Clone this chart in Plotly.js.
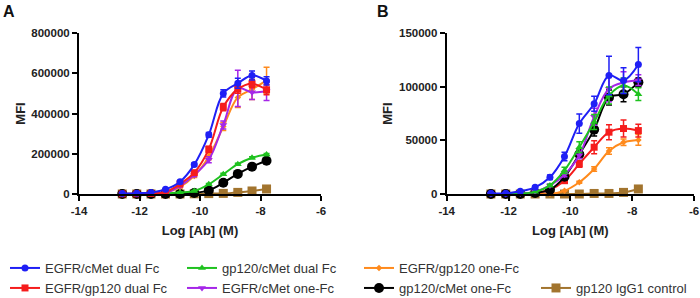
<!DOCTYPE html>
<html>
<head>
<meta charset="utf-8">
<script src="https://cdn.plot.ly/plotly-3.0.1.min.js"></script>
<style>html,body{margin:0;padding:0;background:#fff;}#chart{width:700px;height:298px;}</style>
</head>
<body>
<div id="chart"></div>
<script>
// log10 antibody concentration (M), 3-fold dilution series
const logDose = [-12.57, -12.09, -11.62, -11.14, -10.66, -10.19, -9.71, -9.23, -8.75, -8.28, -7.80];
const xTickVals = [-14, -12, -10, -8, -6];
const xTickText = ['-14', '-12', '-10', '-8', '-6'];
const yTickValsA = [0, 200000, 400000, 600000, 800000];
const yTickValsB = [0, 50000, 100000, 150000];

const seriesNames = ['EGFR/cMet dual Fc', 'gp120/cMet dual Fc', 'EGFR/gp120 one-Fc',
  'EGFR/gp120 dual Fc', 'EGFR/cMet one-Fc', 'gp120/cMet one-Fc', 'gp120 IgG1 control'];

// Panel A (MFI)
const egfrCmetDualA = [3000, 4000, 8000, 23000, 61000, 146000, 294000, 500000, 550000, 589000, 562000];
const egfrCmetDualAErr = [0, 0, 0, 3000, 6000, 8000, 12000, 18000, 25000, 22000, 20000];
const gp120CmetDualA = [0, 0, 1000, 3000, 8000, 15000, 48000, 98000, 148000, 180000, 196000];
const gp120CmetDualAErr = [0, 0, 0, 0, 2000, 3000, 4000, 5000, 5000, 5000, 5000];
const egfrGp120OneA = [0, 1000, 2000, 6000, 35000, 90000, 185000, 335000, 480000, 520000, 565000];
const egfrGp120OneAErr = [0, 0, 0, 2000, 5000, 8000, 15000, 20000, 50000, 50000, 65000];
const egfrGp120DualA = [1000, 1000, 3000, 10000, 50000, 106000, 222000, 432000, 521000, 548000, 518000];
const egfrGp120DualAErr = [0, 0, 0, 3000, 5000, 10000, 15000, 18000, 20000, 20000, 25000];
const egfrCmetOneA = [0, 1000, 2000, 6000, 40000, 95000, 170000, 343000, 525000, 505000, 510000];
const egfrCmetOneAErr = [0, 0, 0, 2000, 5000, 8000, 15000, 20000, 90000, 35000, 45000];
const gp120CmetOneA = [0, 0, 0, 0, 0, 5000, 18000, 56000, 100000, 136000, 165000];
const gp120CmetOneAErr = [0, 0, 0, 0, 0, 0, 2000, 3000, 4000, 4000, 4000];
const igg1ControlA = [0, 0, 0, 0, 0, 1000, 2000, 3000, 8000, 15000, 25000];
const igg1ControlAErr = [0, 0, 0, 0, 0, 0, 0, 0, 0, 0, 0];

// Panel B (MFI)
const egfrCmetDualB = [600, 600, 2500, 6200, 15600, 35000, 65600, 84000, 110400, 105700, 120600];
const egfrCmetDualBErr = [0, 0, 0, 1000, 2000, 4000, 9000, 7000, 18000, 12000, 16000];
const gp120CmetDualB = [0, 0, 500, 2000, 8000, 22000, 43600, 67000, 91800, 101000, 93000];
const gp120CmetDualBErr = [0, 0, 0, 0, 1000, 3000, 5000, 7000, 8000, 7000, 6000];
const egfrGp120OneB = [0, 0, 0, 0, 0, 3000, 10900, 23300, 40000, 48200, 50400];
const egfrGp120OneBErr = [0, 0, 0, 0, 0, 0, 1000, 2000, 3000, 3000, 5000];
const egfrGp120DualB = [0, 0, 0, 1000, 4000, 12400, 28000, 43600, 57600, 61000, 59100];
const egfrGp120DualBErr = [0, 0, 0, 0, 1000, 2000, 3000, 6000, 7000, 8000, 6000];
const egfrCmetOneB = [0, 0, 500, 2000, 8000, 18000, 36000, 72000, 98000, 104000, 106000];
const egfrCmetOneBErr = [0, 0, 0, 0, 1000, 2000, 3000, 8000, 12000, 10000, 5000];
const gp120CmetOneB = [0, 0, 0, 1000, 4000, 16000, 37000, 60000, 90000, 93000, 104000];
const gp120CmetOneBErr = [0, 0, 0, 0, 0, 2000, 4000, 6000, 7000, 7000, 4000];
const igg1ControlB = [0, 0, 0, 0, 0, 0, 0, 500, 500, 1500, 4700];
const igg1ControlBErr = [0, 0, 0, 0, 0, 0, 0, 0, 0, 0, 0];

const styles = {
  'EGFR/cMet dual Fc':  {color: '#1f1ff5', symbol: 'circle', size: 7, legend: 'legend', rank: 1},
  'gp120/cMet dual Fc': {color: '#1fc21f', symbol: 'triangle-up', size: 7, legend: 'legend', rank: 2},
  'EGFR/gp120 one-Fc':  {color: '#ff8a1c', symbol: 'diamond', size: 5, legend: 'legend', rank: 3},
  'EGFR/gp120 dual Fc': {color: '#f51c1c', symbol: 'square', size: 7, legend: 'legend2', rank: 1},
  'EGFR/cMet one-Fc':   {color: '#a526e8', symbol: 'triangle-down', size: 7, legend: 'legend2', rank: 2},
  'gp120/cMet one-Fc':  {color: '#000000', symbol: 'circle', size: 10, legend: 'legend2', rank: 3},
  'gp120 IgG1 control': {color: '#a2742e', symbol: 'square', size: 9, legend: 'legend2', rank: 4}
};

function mk(name, y, err, xa, ya, showLeg) {
  const s = styles[name];
  const t = {
    type: 'scatter', mode: 'lines+markers', name: name,
    x: logDose, y: y, xaxis: xa, yaxis: ya,
    legend: s.legend, legendrank: s.rank, showlegend: showLeg,
    cliponaxis: false,
    line: {color: s.color, width: 2, shape: 'spline', smoothing: 1},
    marker: {color: s.color, symbol: s.symbol, size: s.size},
    error_y: {type: 'data', array: err, visible: true, color: s.color, thickness: 1.5, width: 3}
  };
  if (s.rank === 4) t.legendwidth = 115;
  return t;
}

const panelA = [
  ['gp120 IgG1 control', igg1ControlA, igg1ControlAErr],
  ['gp120/cMet one-Fc', gp120CmetOneA, gp120CmetOneAErr],
  ['gp120/cMet dual Fc', gp120CmetDualA, gp120CmetDualAErr],
  ['EGFR/gp120 one-Fc', egfrGp120OneA, egfrGp120OneAErr],
  ['EGFR/cMet one-Fc', egfrCmetOneA, egfrCmetOneAErr],
  ['EGFR/gp120 dual Fc', egfrGp120DualA, egfrGp120DualAErr],
  ['EGFR/cMet dual Fc', egfrCmetDualA, egfrCmetDualAErr]
];
const panelB = [
  ['gp120 IgG1 control', igg1ControlB, igg1ControlBErr],
  ['EGFR/gp120 one-Fc', egfrGp120OneB, egfrGp120OneBErr],
  ['EGFR/gp120 dual Fc', egfrGp120DualB, egfrGp120DualBErr],
  ['gp120/cMet one-Fc', gp120CmetOneB, gp120CmetOneBErr],
  ['EGFR/cMet one-Fc', egfrCmetOneB, egfrCmetOneBErr],
  ['gp120/cMet dual Fc', gp120CmetDualB, gp120CmetDualBErr],
  ['EGFR/cMet dual Fc', egfrCmetDualB, egfrCmetDualBErr]
];

const data = [];
panelA.forEach(p => data.push(mk(p[0], p[1], p[2], 'x', 'y', true)));
panelB.forEach(p => data.push(mk(p[0], p[1], p[2], 'x2', 'y2', false)));

const FONT = 'Liberation Sans, Arial, sans-serif';
const tickFont = {family: FONT, size: 11.5, color: '#222', weight: 'bold'};
const titleFont = {family: FONT, size: 13, color: '#222', weight: 'bold'};

function xAxis(domain, anchor) {
  return {
    domain: domain, anchor: anchor, range: [-14, -6],
    tickvals: xTickVals, ticktext: xTickText,
    showline: true, linecolor: '#000', linewidth: 2,
    ticks: 'outside', ticklen: 5, tickwidth: 2, tickcolor: '#000',
    showgrid: false, zeroline: false, tickfont: tickFont,
    title: {text: 'Log [Ab] (M)', font: titleFont, standoff: 10}
  };
}
function yAxis(range, vals, anchor) {
  return {
    anchor: anchor, range: range, domain: [0, 1],
    tickvals: vals, tickformat: 'd',
    showline: true, linecolor: '#000', linewidth: 2,
    ticks: 'outside', ticklen: 5, tickwidth: 2, tickcolor: '#000',
    showgrid: false, zeroline: false, tickfont: tickFont,
    title: {text: 'MFI', font: titleFont, standoff: 3}
  };
}

const L = 79, R = 6, T = 33, B = 104, W = 700, H = 298;
const pw = W - L - R, ph = H - T - B;
const px = v => (v - L) / pw;
const py = v => (H - B - v) / ph;

const legendFont = {family: FONT, size: 13, color: '#333'};
const layout = {
  width: W, height: H,
  margin: {l: L, r: R, t: T, b: B, pad: 0, autoexpand: false},
  paper_bgcolor: '#fff', plot_bgcolor: '#fff',
  showlegend: true,
  xaxis: xAxis([0, px(321)], 'y'),
  yaxis: yAxis([0, 800000], yTickValsA, 'x'),
  xaxis2: xAxis([px(446.7), 1], 'y2'),
  yaxis2: yAxis([0, 150000], yTickValsB, 'x2'),
  legend: {orientation: 'h', x: px(5), y: py(268), xanchor: 'left', yanchor: 'middle',
    entrywidth: 132, entrywidthmode: 'pixels', font: legendFont, bgcolor: 'rgba(0,0,0,0)',
    traceorder: 'normal'},
  legend2: {orientation: 'h', x: px(5), y: py(288), xanchor: 'left', yanchor: 'middle',
    entrywidth: 132, entrywidthmode: 'pixels', font: legendFont, bgcolor: 'rgba(0,0,0,0)',
    traceorder: 'normal'},
  annotations: [
    {text: 'A', xref: 'paper', yref: 'paper', x: px(1), y: py(1), xanchor: 'left', yanchor: 'top',
      showarrow: false, font: {family: FONT, size: 16, color: '#111', weight: 'bold'}},
    {text: 'B', xref: 'paper', yref: 'paper', x: px(375), y: py(1), xanchor: 'left', yanchor: 'top',
      showarrow: false, font: {family: FONT, size: 16, color: '#111', weight: 'bold'}}
  ]
};

Plotly.newPlot('chart', data, layout, {displayModeBar: false, staticPlot: true});
</script>
</body>
</html>
